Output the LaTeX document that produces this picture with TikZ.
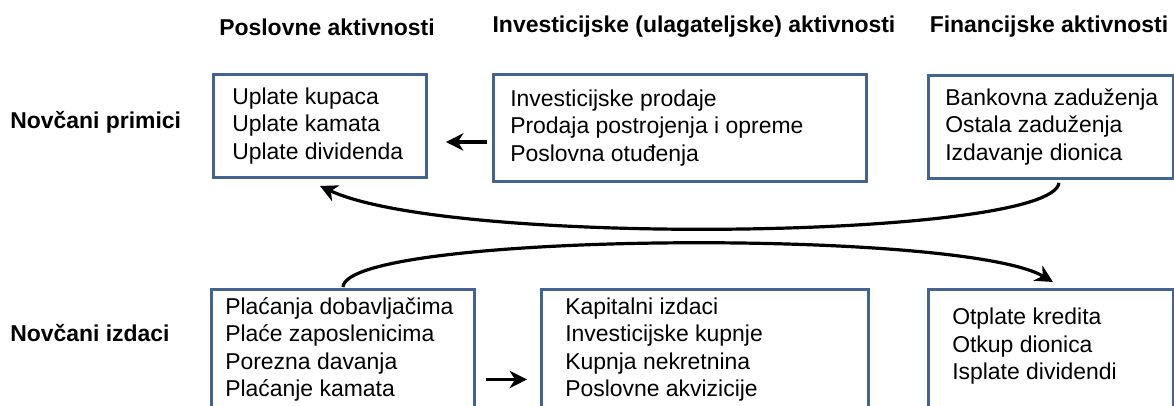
\documentclass[tikz,border=0pt]{standalone}
\usepackage{fontspec}
\setmainfont{Liberation Sans}
\usetikzlibrary{positioning,arrows.meta}
\definecolor{okvir}{RGB}{65,100,145}

\begin{document}
\begin{tikzpicture}[x=0.75pt,y=-0.75pt,
		okv/.style={draw=okvir, line width=2.2pt, rectangle, inner sep=0pt, anchor=north west},
		stavke/.style={align=left, inner sep=0pt, anchor=west, font=\fontsize{17.2}{20.6}\selectfont},
		naslov/.style={inner sep=0pt, font=\fontsize{17.2}{20.6}\selectfont\bfseries},
		tok/.style={line width=2.4pt, -{Stealth[length=13pt,width=13pt,inset=4pt]}}]
		\useasboundingbox (0,0) rectangle (1174,405);
		\clip (0,0) rectangle (1174,405);
		%naslovi
		\node[naslov] (hdrPos) at (327,27) {Poslovne aktivnosti};
		\node[naslov] (hdrInv) at (694,27) {Investicijske (ulagateljske) aktivnosti};
		\node[naslov] (hdrFin) at (1049,27) {Financijske aktivnosti};
		\node[naslov, anchor=west] (redPrim) at (10,122) {Novčani primici};
		\node[naslov, anchor=west] (redIzd) at (10,333) {Novčani izdaci};
		%primici
		\node[okv, minimum width=159.75pt, minimum height=77.25pt] (posPrim) at (212,73) {};
		\node[okv, minimum width=279.75pt, minimum height=80.25pt] (invPrim) at (492,73) {};
		\node[okv, minimum width=183.75pt, minimum height=77.25pt] (finPrim) at (927,74) {};
		\node[stavke, right=15pt of posPrim.west] (posPrimTxt) {Uplate kupaca\\Uplate kamata\\Uplate dividenda};
		\node[stavke, right=13.5pt of invPrim.west] (invPrimTxt) {Investicijske prodaje\\Prodaja postrojenja i opreme\\Poslovna otuđenja};
		\node[stavke, right=13.5pt of finPrim.west] (finPrimTxt) {Bankovna zaduženja\\Ostala zaduženja\\Izdavanje dionica};
		%izdaci
		\node[okv, minimum width=197.25pt, minimum height=90pt] (posIzd) at (210,288) {};
		\node[okv, minimum width=245.25pt, minimum height=90pt] (invIzd) at (540,288) {};
		\node[okv, minimum width=183.75pt, minimum height=90pt] (finIzd) at (927,288) {};
		\node[stavke, right=11.25pt of posIzd.west] (posIzdTxt) {Plaćanja dobavljačima\\Plaće zaposlenicima\\Porezna davanja\\Plaćanje kamata};
		\node[stavke, right=18.75pt of invIzd.west] (invIzdTxt) {Kapitalni izdaci\\Investicijske kupnje\\Kupnja nekretnina\\Poslovne akvizicije};
		\node[stavke, right=18.75pt of finIzd.west, yshift=2.25pt] (finIzdTxt) {Otplate kredita\\Otkup dionica\\Isplate dividendi};
		%strelice
		\draw[tok] ([shift={(-5,14)}]invPrim.west) -- ([shift={(18,16)}]posPrim.east);
		\draw[tok] ([shift={(10,30)}]posIzd.east) -- ([shift={(-13,30)}]invIzd.west);
		\draw[tok] ([shift={(8,3)}]finPrim.south) .. controls +(-7.5,56) and +(131.5,61.5) .. ([shift={(0,7)}]posPrim.south);
		\draw[tok] ([shift={(0,-1)}]posIzd.north) .. controls +(4,-55) and +(-91.5,-54) .. ([shift={(2,-6)}]finIzd.north);
	\end{tikzpicture}
\end{document}
